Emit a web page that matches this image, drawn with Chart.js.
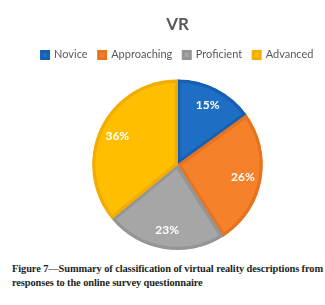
<!DOCTYPE html>
<html>
<head>
<meta charset="utf-8">
<script src="https://cdn.jsdelivr.net/npm/chart.js@4"></script>
<style>
  body { margin: 0; background: #fff; width: 325px; height: 305px; overflow: hidden; }
  #wrap { position: absolute; left: 30px; top: 0; width: 295px; height: 256px; }
  #caption {
    position: absolute; left: 12px; top: 262px; width: 320px; white-space: nowrap;
    font-family: "Liberation Serif", serif; font-weight: bold; font-size: 10.4px;
    line-height: 13.5px; color: #231f20; letter-spacing: -0.1px;
  }
</style>
</head>
<body>
<div id="wrap"><canvas id="grafico"></canvas></div>
<div id="caption">Figure 7—Summary of classification of virtual reality descriptions from<br>responses to the online survey questionnaire</div>
<script>
const categorias = ['Novice', 'Approaching', 'Proficient', 'Advanced'];
const porcentajes = [15, 26, 23, 36];
const colores = ['#1e6fc3', '#f5822a', '#a6a6a6', '#ffbf00'];
const bordes = ['#1560b5', '#e8731f', '#959595', '#f2ae00'];

// Etiquetas de porcentaje dentro de cada porción
const etiquetas = {
    id: 'etiquetas',
    afterDatasetsDraw(chart) {
        const ctx = chart.ctx;
        const meta = chart.getDatasetMeta(0);
        ctx.save();
        ctx.font = 'bold 12px Lato';
        ctx.fillStyle = '#fff';
        ctx.textAlign = 'center';
        ctx.textBaseline = 'middle';
        meta.data.forEach((arc, i) => {
            const ang = (arc.startAngle + arc.endAngle) / 2;
            const r = arc.outerRadius * 0.78;
            ctx.fillText(porcentajes[i] + '%', arc.x + Math.cos(ang) * r, arc.y + Math.sin(ang) * r);
        });
        ctx.restore();
    }
};

// Espacio extra debajo de la leyenda
const espacioLeyenda = {
    id: 'espacioLeyenda',
    beforeInit(chart) {
        const fitOriginal = chart.legend.fit;
        chart.legend.fit = function () {
            fitOriginal.bind(chart.legend)();
            this.height += 9;
        };
    }
};

new Chart(document.getElementById('grafico'), {
    type: 'pie',
    data: {
        labels: categorias,
        datasets: [{
            data: porcentajes,
            backgroundColor: colores,
            borderColor: bordes,
            borderWidth: 3,
            borderAlign: 'inner'
        }]
    },
    options: {
        responsive: true,
        maintainAspectRatio: false,
        animation: false,
        layout: { padding: { bottom: 6 } },
        plugins: {
            title: {
                display: true,
                text: 'VR',
                color: '#595959',
                font: { family: 'Lato', size: 17, weight: 'bold' },
                padding: { top: 14, bottom: 4 }
            },
            legend: {
                position: 'top',
                labels: {
                    color: '#595959',
                    font: { family: 'Lato', size: 11 },
                    boxWidth: 7,
                    boxHeight: 7,
                    padding: 11
                }
            },
            tooltip: { enabled: false }
        }
    },
    plugins: [etiquetas, espacioLeyenda]
});
</script>
</body>
</html>
